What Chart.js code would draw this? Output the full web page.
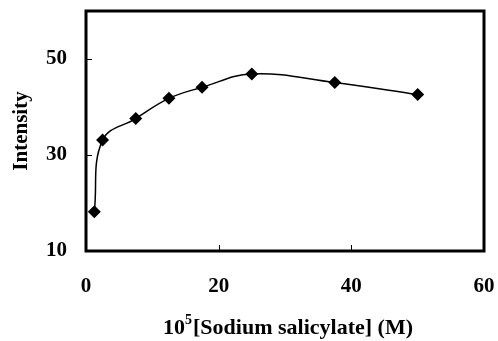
<!DOCTYPE html>
<html>
<head>
<meta charset="utf-8">
<script src="https://cdn.jsdelivr.net/npm/chart.js@4/dist/chart.umd.min.js"></script>
<style>
  html, body { margin: 0; padding: 0; background: #fff; }
  #wrap { width: 498px; height: 341px; }
</style>
</head>
<body>
<div id="wrap"><canvas id="c" width="498" height="341"></canvas></div>
<script>
// concentration (x 10^5 M) and intensity
const concentration = [1.25, 2.5, 7.5, 12.5, 17.5, 25, 37.5, 50];
const intensity = [18.2, 33.1, 37.6, 41.8, 44.1, 46.9, 45.1, 42.6];
const xTicks = [0, 20, 40, 60];
const yTicks = [10, 30, 50];

const FONT = '"Liberation Serif", "Times New Roman", serif';

// frame, inward tick marks and the x title with its superscript
const framePlugin = {
  id: 'frame',
  afterDraw(chart) {
    const ctx = chart.ctx;
    const a = chart.chartArea;
    const xs = chart.scales.x, ys = chart.scales.y;
    ctx.save();
    ctx.strokeStyle = '#000';
    ctx.lineWidth = 1;
    ctx.beginPath();
    xTicks.forEach(v => {
      const px = Math.round(xs.getPixelForValue(v)) + 0.5;
      ctx.moveTo(px, a.bottom);
      ctx.lineTo(px, a.bottom - 6);
    });
    yTicks.forEach(v => {
      const py = Math.round(ys.getPixelForValue(v)) + 0.5;
      ctx.moveTo(a.left, py);
      ctx.lineTo(a.left + 6, py);
    });
    ctx.stroke();
    ctx.lineWidth = 3;
    ctx.strokeRect(a.left, a.top, a.right - a.left, a.bottom - a.top);

    // x axis title: 10^5[Sodium salicylate] (M)
    const big = 'bold 22px ' + FONT, small = 'bold 14px ' + FONT;
    const p1 = '10', p2 = '5', p3 = '[Sodium salicylate] (M)';
    ctx.font = big;
    const w1 = ctx.measureText(p1).width, w3 = ctx.measureText(p3).width;
    ctx.font = small;
    const w2 = ctx.measureText(p2).width;
    const total = w1 + w2 + 1 + w3;
    let x = (a.left + a.right) / 2 - total / 2 + 3;
    const base = 334;
    ctx.fillStyle = '#000';
    ctx.textBaseline = 'alphabetic';
    ctx.textAlign = 'left';
    ctx.font = big;
    ctx.fillText(p1, x, base);
    x += w1;
    ctx.font = small;
    ctx.fillText(p2, x, base - 10);
    x += w2 + 1;
    ctx.font = big;
    ctx.fillText(p3, x, base);
    ctx.restore();
  }
};

new Chart(document.getElementById('c'), {
  type: 'line',
  data: {
    datasets: [{
      data: concentration.map((c, i) => ({ x: c, y: intensity[i] })),
      borderColor: '#000',
      borderWidth: 1.5,
      backgroundColor: '#000',
      pointStyle: 'rectRot',
      pointRadius: 6.5,
      pointBorderWidth: 0,
      tension: 0.4,
      fill: false
    }]
  },
  options: {
    responsive: false,
    animation: false,
    layout: { padding: { top: 11, right: 14, left: 0, bottom: 0 } },
    plugins: { legend: { display: false }, tooltip: { enabled: false } },
    scales: {
      x: {
        type: 'linear',
        min: 0, max: 60,
        afterBuildTicks: s => { s.ticks = xTicks.map(v => ({ value: v })); },
        afterFit: s => { s.height = 90; s.paddingLeft = 0; s.paddingRight = 0; },
        grid: { display: false, drawTicks: false },
        border: { display: false },
        ticks: { color: '#000', padding: 23, font: { family: FONT, size: 21, weight: 'bold' } }
      },
      y: {
        type: 'linear',
        min: 10, max: 60,
        afterBuildTicks: s => { s.ticks = yTicks.map(v => ({ value: v })); },
        afterFit: s => { s.width = 86; s.paddingTop = 0; s.paddingBottom = 0; },
        grid: { display: false, drawTicks: false },
        border: { display: false },
        ticks: { color: '#000', padding: 19, font: { family: FONT, size: 21, weight: 'bold' } },
        title: {
          display: true,
          text: 'Intensity',
          color: '#000',
          padding: { top: 9, bottom: 0 },
          font: { family: FONT, size: 21, weight: 'bold' }
        }
      }
    }
  },
  plugins: [framePlugin]
});
</script>
</body>
</html>
